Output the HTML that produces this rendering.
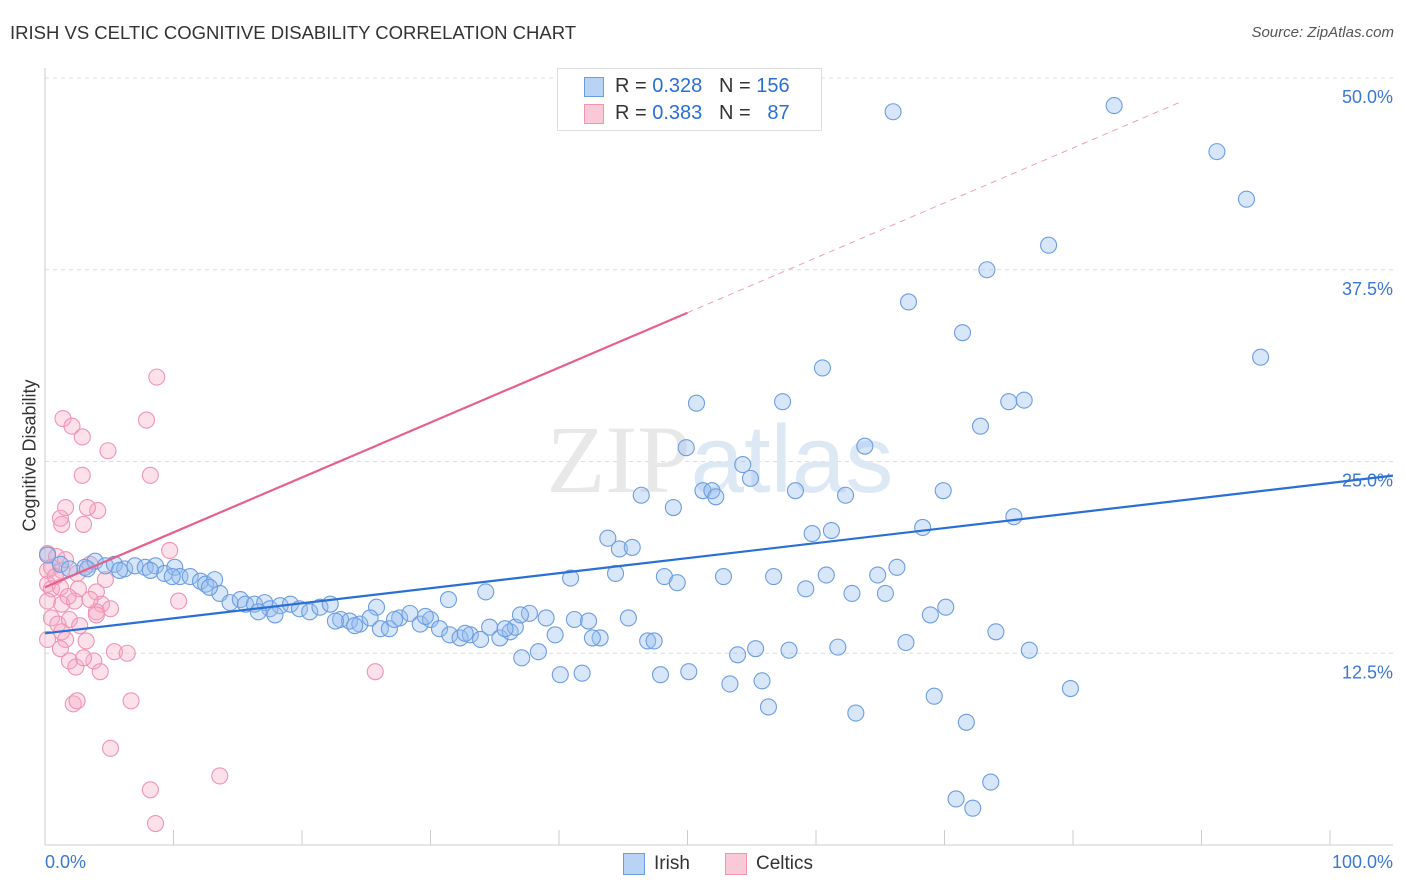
<!DOCTYPE html>
<html><head><meta charset="utf-8"><style>
body{margin:0;background:#fff;font-family:"Liberation Sans",sans-serif;}
#wrap{position:relative;width:1406px;height:892px;overflow:hidden;}
.t{position:absolute;white-space:nowrap;}
</style></head><body>
<div id="wrap">
<div class="t" style="left:10px;top:22px;font-size:18.5px;color:#333;">IRISH VS CELTIC COGNITIVE DISABILITY CORRELATION CHART</div>
<div class="t" style="right:12px;top:24px;font-size:15px;color:#555;font-style:italic;">Source: ZipAtlas.com</div>
<div class="t" style="left:-50px;top:445px;font-size:18px;color:#333;transform:rotate(-90deg);width:160px;text-align:center;">Cognitive Disability</div>
<svg id="svg" width="1406" height="892" style="position:absolute;left:0;top:0"></svg>
</div>
<script>
const yTicks=[12.5,25,37.5,50];
const yTickLabels=["12.5%","25.0%","37.5%","50.0%"];
const irishX=[66.0,83.2,91.2,93.5,78.1,73.3,67.2,71.4,94.6,60.5,50.7,57.4,75.0,76.2,72.8,49.9,63.8,54.3,54.9,51.2,51.9,52.2,58.4,46.4,62.3,69.9,48.9,75.4,68.3,59.7,61.2,43.8,44.7,45.7,40.9,44.4,48.2,49.2,52.8,56.7,60.8,64.8,66.3,59.2,62.8,65.4,34.3,31.4,70.1,68.9,25.8,45.4,41.2,42.3,39.0,37.7,74.0,67.0,61.7,46.9,47.4,43.2,42.6,55.3,57.9,53.9,76.6,38.4,37.1,50.1,47.9,40.1,41.8,53.3,55.8,79.8,69.2,56.3,63.1,71.7,73.6,70.9,72.2,
0.2,1.2,1.9,3.1,3.9,4.7,5.4,6.2,7.0,7.8,8.6,9.3,10.1,10.5,11.3,12.1,12.5,13.2,13.6,14.4,15.2,15.6,16.3,17.1,17.5,18.3,19.1,19.8,20.6,21.4,22.2,23.0,23.7,24.5,25.3,26.1,26.8,27.6,28.4,29.2,30.0,30.7,31.5,32.3,33.1,33.9,34.6,35.4,36.2,36.6,3.3,5.8,8.2,9.9,12.8,16.6,17.9,22.6,24.1,27.2,29.6,32.7,35.8,37.0,39.7];
const irishY=[48.9,49.3,46.3,43.2,40.2,38.6,36.5,34.5,32.9,32.2,29.9,30.0,30.0,30.1,28.4,27.0,27.1,25.9,25.0,24.2,24.2,23.8,24.2,23.9,23.9,24.2,23.1,22.5,21.8,21.4,21.6,21.1,20.4,20.5,18.5,18.8,18.6,18.2,18.6,18.6,18.7,18.7,19.2,17.8,17.5,17.5,17.6,17.1,16.6,16.1,16.6,15.9,15.8,15.7,15.9,16.2,15.0,14.3,14.0,14.4,14.4,14.6,14.6,13.9,13.8,13.5,13.8,13.7,13.3,12.4,12.2,12.2,12.3,11.6,11.8,11.3,10.8,10.1,9.7,9.1,5.2,4.1,3.5,
20.0,19.4,19.1,19.2,19.6,19.3,19.4,19.1,19.3,19.2,19.3,18.8,19.2,18.6,18.6,18.3,18.1,18.4,17.5,16.9,17.1,16.8,16.8,16.9,16.5,16.7,16.8,16.5,16.3,16.6,16.8,15.8,15.7,15.5,15.9,15.2,15.2,15.9,16.2,15.5,15.8,15.2,14.8,14.6,14.8,14.5,15.3,14.6,15.0,15.3,19.1,19.0,19.0,18.6,17.9,16.3,16.1,15.7,15.4,15.8,16.0,14.9,15.2,16.1,14.8].map(v=>v-1.1);
const celticX=[8.7,7.9,1.4,2.1,2.9,4.9,2.9,8.2,1.6,4.1,3.3,1.3,3.0,1.2,9.7,0.2,0.9,0.5,0.2,1.3,2.5,3.5,4.7,0.2,0.5,1.2,2.6,4.0,0.2,1.3,2.3,4.4,5.1,4.0,10.4,0.5,1.0,1.9,2.7,4.0,1.3,0.2,1.6,3.2,1.2,5.4,6.4,1.9,3.8,2.4,4.3,3.0,2.2,2.5,6.7,5.1,13.6,8.2,8.6,25.7,1.8,3.5,0.8,1.6];
const celticY=[31.6,28.8,28.9,28.4,27.7,26.8,25.2,25.2,23.1,22.9,23.1,22.0,22.0,22.4,20.3,20.1,19.9,19.2,19.0,19.0,18.8,19.4,18.4,18.1,17.8,17.9,17.8,17.6,17.0,16.8,17.0,16.8,16.5,16.3,17.0,15.9,15.5,15.8,15.4,16.1,15.0,14.5,14.5,14.4,13.9,13.7,13.6,13.1,13.1,12.7,12.4,13.3,10.3,10.5,10.5,7.4,5.6,4.7,2.5,12.4,17.3,17.1,18.6,19.7].map(v=>v-1.1);
const irishTrend=[13.8,23.6];
const celticTrend=[16.8,0.358];
const X0=45,X1=1330,Y0=845,YS=15.34;
const xs=v=>X0+(X1-X0)*v/100, ys=v=>Y0-v*YS;
const svg=document.getElementById('svg');const NS='http://www.w3.org/2000/svg';
function mk(tag,attrs,parent){const e=document.createElementNS(NS,tag);for(const k in attrs)e.setAttribute(k,attrs[k]);(parent||svg).appendChild(e);return e;}
yTicks.forEach((v,i)=>{
 const g=mk('line',{x1:45,x2:1393,y1:ys(v),y2:ys(v),stroke:'#dcdcdc','stroke-dasharray':'4,4'});
 
 
 const t=mk('text',{x:1393,y:ys(v)+25,'text-anchor':'end','font-size':18,fill:'#3a78d4','font-family':'Liberation Sans'});
 t.textContent=yTickLabels[i];
 
 
});
mk('line',{x1:45,x2:45,y1:68,y2:845,stroke:'#ccc'});
const ax=mk('line',{x1:45,x2:1393,y1:845,y2:845,stroke:'#ccc'});


for(let i=1;i<=10;i++){const tk=mk('line',{x1:xs(i*10),x2:xs(i*10),y1:830,y2:845,stroke:'#ccc'});
 
 }
const wm=mk('text',{x:720,y:492,'text-anchor':'middle','font-size':96,fill:'#e8e8e8','font-family':'Liberation Serif'});
wm.innerHTML='ZIP<tspan fill="#dde8f5" font-family="Liberation Sans">atlas</tspan>';


celticX.forEach((x,i)=>{const c=mk('circle',{cx:xs(x),cy:ys(celticY[i]),r:8,fill:'rgba(246,170,195,0.35)',stroke:'#f094b2','stroke-width':1.1});
 
 });
irishX.forEach((x,i)=>{const c=mk('circle',{cx:xs(x),cy:ys(irishY[i]),r:8,fill:'rgba(150,190,240,0.38)',stroke:'#6d9de0','stroke-width':1.1});
 
 });
const bl=mk('line',{x1:xs(0),y1:ys(irishTrend[0]),x2:xs(104.9),y2:ys(irishTrend[0]+(irishTrend[1]-irishTrend[0])*1.049),stroke:'#2a6fd6','stroke-width':2.2});


const pl=mk('line',{x1:xs(0),y1:ys(celticTrend[0]),x2:xs(50),y2:ys(celticTrend[0]+celticTrend[1]*50),stroke:'#e8608a','stroke-width':2.2});


const pd=mk('line',{x1:xs(50),y1:ys(celticTrend[0]+celticTrend[1]*50),x2:xs(88.3),y2:ys(celticTrend[0]+celticTrend[1]*88.3),stroke:'#eaa0b8','stroke-width':1,'stroke-dasharray':'6,5'});


</script>
<div class="t" style="left:45px;top:852px;font-size:18px;color:#3a78d4;">0.0%</div>
<div class="t" style="right:13px;top:852px;font-size:18px;color:#3a78d4;">100.0%</div>
<div style="position:absolute;left:557px;top:68px;width:263px;height:61px;border:1px solid #ddd;background:#fff;font-size:20px;color:#333;">
 <div style="position:absolute;left:26px;top:8px;width:18px;height:18px;background:#b9d3f5;border:1px solid #6d9de0;"></div>
 <div class="t" style="left:57px;top:6px;">R = <span style="color:#2a6fd6">0.328</span>&nbsp;&nbsp;&nbsp;N = <span style="color:#2a6fd6">156</span></div>
 <div style="position:absolute;left:26px;top:35px;width:18px;height:18px;background:#f9c9d7;border:1px solid #f094b2;"></div>
 <div class="t" style="left:57px;top:33px;">R = <span style="color:#2a6fd6">0.383</span>&nbsp;&nbsp;&nbsp;N = &nbsp;&nbsp;<span style="color:#2a6fd6">87</span></div>
</div>
<div style="position:absolute;left:623px;top:853px;width:20px;height:20px;background:#b9d3f5;border:1px solid #6d9de0;"></div>
<div class="t" style="left:654px;top:853px;font-size:19px;color:#333;">Irish</div>
<div style="position:absolute;left:725px;top:853px;width:20px;height:20px;background:#f9c9d7;border:1px solid #f094b2;"></div>
<div class="t" style="left:756px;top:853px;font-size:19px;color:#333;">Celtics</div>
</body></html>
